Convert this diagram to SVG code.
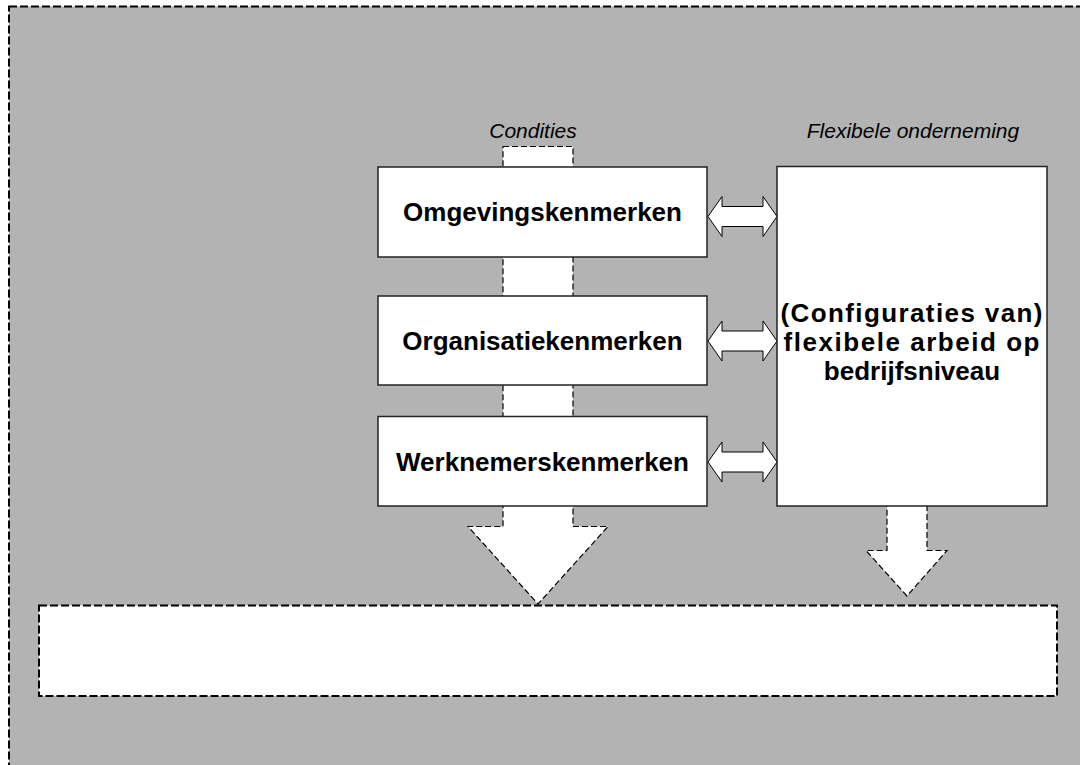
<svg xmlns="http://www.w3.org/2000/svg" width="1080" height="765" viewBox="0 0 1080 765">
  <style>
    .frame { fill: #b3b3b3; stroke: #000; stroke-width: 2; stroke-dasharray: 8 3; }
    .dashbox { fill: #fff; stroke: #000; stroke-width: 2; stroke-dasharray: 8 3; }
    .flow { fill: #fff; stroke: #000; stroke-width: 1.2; stroke-dasharray: 6 3; }
    .box { fill: #fff; stroke: #222; stroke-width: 1.5; }
    .dbl { fill: #fff; stroke: #000; stroke-width: 1; }
    .lbl { font-family: "Liberation Sans", Arial, sans-serif; font-size: 26px; font-weight: bold; fill: #000; text-anchor: middle; }
    .cap { font-family: "Liberation Sans", Arial, sans-serif; font-size: 21px; font-style: italic; fill: #000; text-anchor: middle; }
  </style>

  <!-- outer frame -->
  <rect class="frame" x="9" y="6.5" width="1100" height="800"/>

  <!-- captions -->
  <text class="cap" x="533" y="138">Condities</text>
  <text class="cap" x="913" y="138">Flexibele onderneming</text>

  <!-- connectors: broad flow arrows and two-way links -->
  <g id="connectors">
    <polygon class="flow" points="503,146.5 573,146.5 573,526.5 608,526.5 538,604 468,526.5 503,526.5"/>
    <polygon class="flow" points="887,500 927,500 927,550.5 947,550.5 907,596 866,550.5 887,550.5"/>
    <polygon class="dbl" points="708,216.5 722,196.5 722,206.5 763,206.5 763,196.5 777,216.5 763,236.5 763,226.5 722,226.5 722,236.5"/>
    <polygon class="dbl" points="708,341 722,321 722,331 763,331 763,321 777,341 763,361 763,351 722,351 722,361"/>
    <polygon class="dbl" points="708,462 722,442 722,452 763,452 763,442 777,462 763,482 763,472 722,472 722,482"/>
  </g>

  <g id="omgevingskenmerken">
    <rect class="box" x="378" y="167" width="329" height="90"/>
    <text class="lbl" x="542.5" y="221">Omgevingskenmerken</text>
  </g>

  <g id="organisatiekenmerken">
    <rect class="box" x="378" y="296" width="329" height="89"/>
    <text class="lbl" x="542.5" y="349.5">Organisatiekenmerken</text>
  </g>

  <g id="werknemerskenmerken">
    <rect class="box" x="378" y="416.5" width="329" height="89.5"/>
    <text class="lbl" x="542.5" y="470.5">Werknemerskenmerken</text>
  </g>

  <g id="flexibele-arbeid">
    <rect class="box" x="777" y="166.5" width="270" height="339.5"/>
    <!-- first two lines are spread to the box width -->
    <text class="lbl" x="911.5" y="322" textLength="262" lengthAdjust="spacing">(Configuraties van)</text>
    <text class="lbl" x="911.5" y="351" textLength="256" lengthAdjust="spacing">flexibele arbeid op</text>
    <text class="lbl" x="912" y="380">bedrijfsniveau</text>
  </g>

  <g id="uitkomst">
    <rect class="dashbox" x="39" y="605.5" width="1018" height="90.5"/>
  </g>
</svg>
